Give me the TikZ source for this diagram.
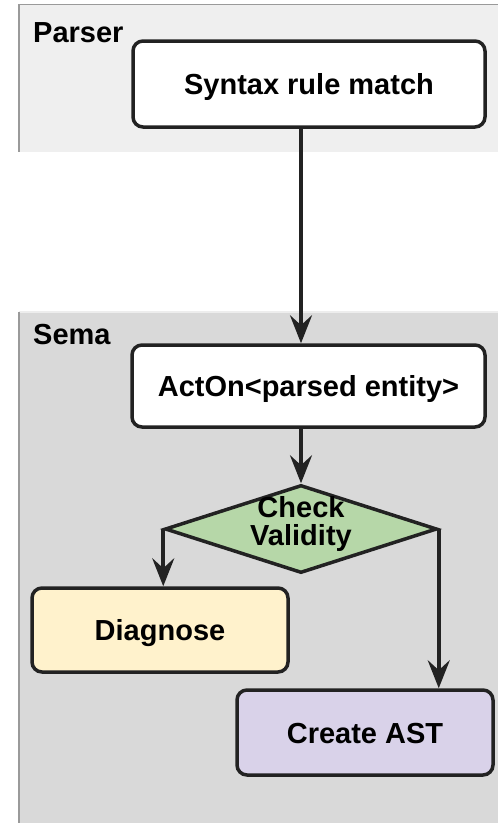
\documentclass[tikz,border=0pt]{standalone}
\usepackage{fontspec}
\setmainfont{Liberation Sans}
\usetikzlibrary{shapes.geometric,arrows.meta}
\definecolor{edge}{HTML}{222222}
\definecolor{parserfill}{HTML}{EFEFEF}
\definecolor{semafill}{HTML}{D9D9D9}
\definecolor{greenfill}{HTML}{B6D7A8}
\definecolor{yellowfill}{HTML}{FFF2CC}
\definecolor{purplefill}{HTML}{D9D2E9}
\definecolor{panelline}{HTML}{9A9A9A}
\definecolor{semaline}{HTML}{EDEDED}
\begin{document}
\begin{tikzpicture}[x=1pt,y=-1pt,
  txt/.style={font=\bfseries\fontsize{29}{28}\selectfont},
  box/.style={txt, draw=edge, line width=3.5pt, rounded corners=10pt, fill=white, inner sep=0pt, text height=21pt, text depth=0pt},
  conn/.style={draw=edge, line width=4pt, -{Stealth[length=28pt,width=22pt,inset=10pt]}},
  lbl/.style={txt, anchor=base west, inner sep=0pt}
]
\useasboundingbox (0,0) rectangle (498,823);
\fill[white] (0,0) rectangle (498,823);
% panels
\fill[parserfill] (19,4.5) rectangle (505,152);
\draw[panelline, line width=1.5pt] (505,4.5) -- (19,4.5) -- (19,152);
\fill[semafill] (19,312) rectangle (505,830);
\draw[semaline, line width=1.5pt] (505,312) -- (19,312);
\draw[panelline, line width=1.5pt] (19,312) -- (19,830);
\node[lbl] (parserlbl) at (33,42) {Parser};
\node[lbl] (semalbl) at (33,344) {Sema};
% nodes
\node[box, minimum width=352pt, minimum height=86pt] (syn) at (309,84) {Syntax rule match};
\node[box, minimum width=353pt, minimum height=82pt] (acton) at (308.5,386) {ActOn<parsed entity>};
\node[diamond, draw=edge, fill=greenfill, line width=3.5pt, minimum width=272pt, minimum height=88pt, inner sep=0pt] (dec) at (301,529) {};
\node[txt, align=center, inner sep=0pt] (dectext) at (301,524) {Check\\Validity};
\node[box, fill=yellowfill, minimum width=256pt, minimum height=84pt] (diag) at (160,630) {Diagnose};
\node[box, fill=purplefill, minimum width=256pt, minimum height=85pt] (cast) at (365,732.5) {Create AST};
% connectors
\draw[conn] (syn.south -| dec.north) -- (acton.north -| dec.north);
\draw[conn] (acton.south -| dec.north) -- (dec.north);
\draw[conn] (dec.west) -- (dec.west |- diag.north);
\draw[conn] (dec.east) -- (dec.east |- cast.north);
\end{tikzpicture}
\end{document}
